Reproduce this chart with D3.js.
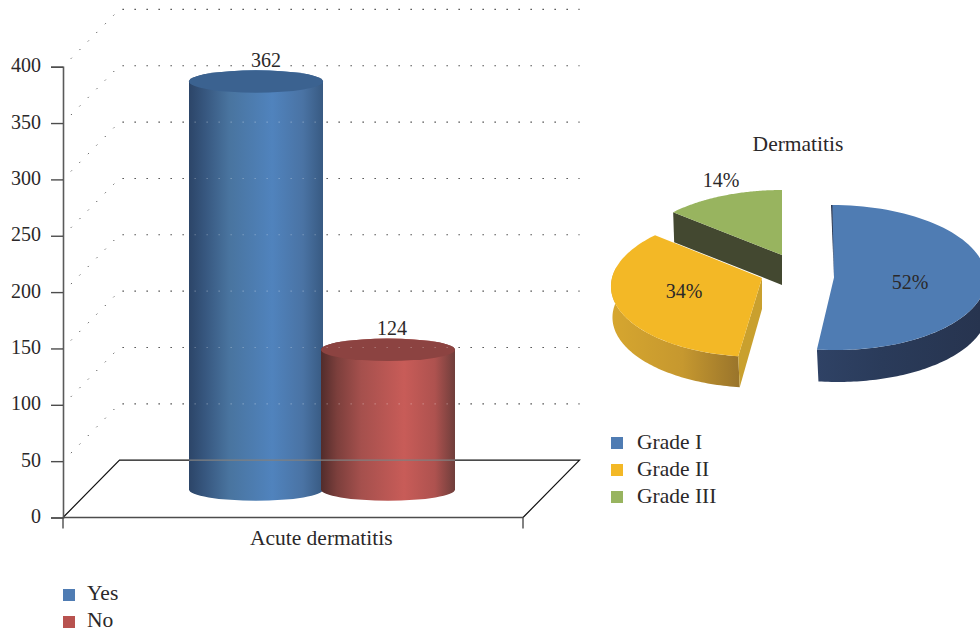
<!DOCTYPE html>
<html><head><meta charset="utf-8">
<script src="https://cdn.jsdelivr.net/npm/d3@7"></script>
<style>html,body{margin:0;padding:0;background:#fff}svg{display:block}text{font-family:"Liberation Serif",serif;fill:#2b2829}</style>
</head><body><svg id="c" width="980" height="635"></svg>
<script>
// ---- data ----
const barCategory = "Acute dermatitis";
const barSeries = ["Yes", "No"];
const barValues = [362, 124];
const yTicks = [0, 50, 100, 150, 200, 250, 300, 350, 400];
const pieTitle = "Dermatitis";
const pieLabels = ["Grade I", "Grade II", "Grade III"];
const pieValues = [52, 34, 14];

// ---- layout & style ----
const svg = d3.select("#c");
const defs = svg.append("defs");
const y = d3.scaleLinear([0, 400], [517.5, 66.7]);
const front = {l: 63, r: 523};
const depth = {x: 56.5, y: 57.3};
const cylOffset = 28, cylHalf = 67, cylRy = 11.2;
const numSize = "20px", wordSize = "21.5px";
const xs = d3.scaleBand(barSeries, [190, 454]);
const cx = s => xs(s) + xs.bandwidth() / 2;
const barColors = {
  Yes: {top: "#3b6290", stops: [[0,"#2c4568"],[.12,"#37577f"],[.3,"#49749f"],[.62,"#5083bd"],[.85,"#4a73a4"],[1,"#385a82"]]},
  No: {top: "#8c4341", stops: [[0,"#522c2b"],[.12,"#7c3f3c"],[.3,"#a5504d"],[.62,"#c85c58"],[.85,"#ae524f"],[1,"#6f3e3b"]]}
};
const pieColors = ["#4f7cb3", "#f3b826", "#98b45f"];
const pieGeom = [
  {x: 834, y: 277.5, rx: 152, ry: 72.5, k: 0, d: 32, s: 2},
  {x: 762, y: 278, rx: 150, ry: 71.3, k: .097, d: 31, s: -3},
  {x: 782, y: 255, rx: 150, ry: 71.3, k: .097, d: 30, s: 0}
];

barSeries.forEach((s, i) => {
  const g = defs.append("linearGradient").attr("id", "cyl" + i);
  barColors[s].stops.forEach(d => g.append("stop").attr("offset", d[0]).attr("stop-color", d[1]));
});
const wallGrad = (id, stops, x1, x2) => {
  const g = defs.append("linearGradient").attr("id", id).attr("gradientUnits", "userSpaceOnUse")
    .attr("x1", x1).attr("x2", x2).attr("y1", 0).attr("y2", 0);
  stops.forEach(d => g.append("stop").attr("offset", d[0]).attr("stop-color", d[1]));
};
wallGrad("w0", [[0,"#2f4265"],[.4,"#2a3b5a"],[1,"#27344f"]], 817, 980);
wallGrad("w1", [[0,"#d6a62f"],[.55,"#c6982f"],[1,"#99742b"]], 612, 740);

// ---- back wall grid ----
const grid = svg.append("g");
const gridTicks = yTicks.filter(v => v > 0);
const gridLine = sel => sel.attr("x1", front.l + depth.x + 3).attr("x2", front.r + depth.x)
  .attr("y1", d => y(d) - depth.y).attr("y2", d => y(d) - depth.y)
  .attr("stroke-width", 1.1).attr("stroke-dasharray", "1.3 10.7");
grid.selectAll("line.g").data(gridTicks).join("line").attr("class", "g").call(gridLine).attr("stroke", "#333");
grid.selectAll("line.d").data(gridTicks).join("line").attr("class", "d")
  .attr("x1", front.l).attr("y1", d => y(d)).attr("x2", front.l + depth.x - 2).attr("y2", d => y(d) - depth.y + 2)
  .attr("stroke", "#444").attr("stroke-width", 1)
  .attr("stroke-dasharray", "1.2 10.9").attr("stroke-dashoffset", -11.3);

// floor
const floor = d3.line()([[front.l, y(0)], [front.l + depth.x, y(0) - depth.y], [front.r + depth.x, y(0) - depth.y], [front.r, y(0)]]);
svg.append("path").attr("d", floor).attr("fill", "none").attr("stroke", "#111").attr("stroke-width", 1.2);

// ---- cylinders ----
const cylPath = (s, v) => {
  const c = cx(s), t = y(v) - cylOffset, b = y(0) - cylOffset;
  return `M${c - cylHalf},${t}L${c - cylHalf},${b}A${cylHalf},${cylRy} 0 0 0 ${c + cylHalf},${b}L${c + cylHalf},${t}A${cylHalf},${cylRy} 0 0 0 ${c - cylHalf},${t}Z`;
};
const clip = defs.append("clipPath").attr("id", "cylclip");
barSeries.forEach((s, i) => {
  svg.append("path").attr("d", cylPath(s, barValues[i])).attr("fill", `url(#cyl${i})`);
  svg.append("ellipse").attr("cx", cx(s)).attr("cy", y(barValues[i]) - cylOffset)
    .attr("rx", cylHalf).attr("ry", cylRy).attr("fill", barColors[s].top);
  clip.append("path").attr("d", cylPath(s, barValues[i]));
});
// grid and floor show faintly through the cylinders
const through = svg.append("g").attr("clip-path", "url(#cylclip)");
through.selectAll("line.g").data(gridTicks).join("line").attr("class", "g").call(gridLine)
  .attr("stroke", "#fff").attr("stroke-opacity", .3);
through.append("path").attr("d", floor).attr("fill", "none").attr("stroke", "#808080").attr("stroke-width", 1.2);

// ---- axes ----
const axis = svg.append("g").attr("transform", `translate(${front.l},0)`)
  .call(d3.axisLeft(y).tickValues(yTicks).tickSize(12).tickPadding(10).tickFormat(d3.format("d")));
axis.selectAll("line").attr("stroke", "#4d4d4d").attr("stroke-width", 1.4);
axis.select(".domain").attr("stroke", "#5a5a5a").attr("stroke-width", 1.6);
axis.selectAll("text").attr("dy", "0.25em").style("font-size", numSize).style("font-family", '"Liberation Serif",serif').attr("fill", "#2b2829");
svg.append("line").attr("x1", front.l).attr("x2", front.r).attr("y1", y(0)).attr("y2", y(0)).attr("stroke", "#4d4d4d").attr("stroke-width", 1.6);
[front.l, front.r].forEach(x => svg.append("line").attr("x1", x).attr("x2", x).attr("y1", y(0)).attr("y2", y(0) + 11).attr("stroke", "#4d4d4d").attr("stroke-width", 1.4));
svg.append("text").attr("x", (front.l + front.r + depth.x) / 2).attr("y", 545).attr("text-anchor", "middle").style("font-size", wordSize).text(barCategory);

// bar value labels
const labelDx = [10, 4];
barSeries.forEach((s, i) => svg.append("text")
  .attr("x", cx(s) + labelDx[i]).attr("y", y(barValues[i]) - cylOffset - 15)
  .attr("text-anchor", "middle").style("font-size", numSize)
  .attr("stroke", "#fff").attr("stroke-width", 4).attr("paint-order", "stroke").text(barValues[i]));

// bar legend
barSeries.forEach((s, i) => {
  const py = 589 + i * 27;
  svg.append("rect").attr("x", 63).attr("y", py).attr("width", 12).attr("height", 12).attr("fill", i ? "#b8524f" : "#4f7cb3");
  svg.append("text").attr("x", 87).attr("y", py + 11).style("font-size", wordSize).text(s);
});

// ---- pie ----
const arcs = d3.pie().sort(null)(pieValues);
const pt = (g, t, off = 0) => {
  const u = Math.sin(t), v = Math.cos(t), w = 1 + g.k * v;
  return [g.x + g.rx * u / w - g.s * v + (off ? 1.5 : 0), g.y - g.ry * v / w + off];
};
const line = d3.line();
const arcPts = (g, a, b, off = 0) => d3.range(0, 81).map(i => pt(g, a + (b - a) * i / 80, off));
const clipT = (a, b) => [Math.max(a, Math.PI / 2), Math.min(b, 1.55 * Math.PI)];

// green slice (back)
{
  const g = pieGeom[2], a = arcs[2], p = pt(g, a.startAngle), tip = [g.x, g.y];
  svg.append("path").attr("d", line([p, tip, [tip[0], tip[1] + g.d], [p[0] + 1, p[1] + g.d]]) + "Z").attr("fill", "#434830");
  svg.append("path").attr("d", line([tip, ...arcPts(g, a.startAngle, a.endAngle)]) + "Z").attr("fill", pieColors[2]);
}
// yellow slice
{
  const g = pieGeom[1], a = arcs[1], tip = [g.x, g.y], p = pt(g, a.startAngle);
  const [t0, t1] = clipT(a.startAngle, a.endAngle);
  svg.append("path").attr("d", line([...arcPts(g, t0, t1), ...arcPts(g, t0, t1, g.d).reverse()]) + "Z").attr("fill", "url(#w1)");
  svg.append("path").attr("d", line([tip, p, [p[0] + 1.5, p[1] + g.d], [tip[0], tip[1] + g.d]]) + "Z").attr("fill", "#c9a02e");
  svg.append("path").attr("d", line([tip, ...arcPts(g, a.startAngle, a.endAngle)]) + "Z").attr("fill", pieColors[1]);
}
// blue slice
{
  const g = pieGeom[0], a = arcs[0], tip = [g.x, g.y];
  const [t0, t1] = clipT(a.startAngle, a.endAngle);
  svg.append("path").attr("d", line([...arcPts(g, t0, t1), ...arcPts(g, t0, t1, g.d).reverse()]) + "Z").attr("fill", "url(#w0)");
  svg.append("path").attr("d", line([tip, ...arcPts(g, a.startAngle, a.endAngle)]) + "Z").attr("fill", pieColors[0]);
  const s = pt(g, a.startAngle);
  svg.append("path").attr("d", line([[s[0] - 1, s[1]], tip, [s[0] + .4, s[1]]]) + "Z").attr("fill", "#27344f");
}
// pie labels
svg.append("text").attr("x", 798).attr("y", 151).attr("text-anchor", "middle").style("font-size", wordSize).text(pieTitle);
const pieLabelPos = [[910, 289], [684, 298], [721, 187]];
pieValues.forEach((v, i) => svg.append("text").attr("x", pieLabelPos[i][0]).attr("y", pieLabelPos[i][1])
  .attr("text-anchor", "middle").style("font-size", numSize).text(v + "%"));
pieLabels.forEach((s, i) => {
  const py = 437 + i * 27;
  svg.append("rect").attr("x", 611).attr("y", py).attr("width", 12).attr("height", 12).attr("fill", pieColors[i]);
  svg.append("text").attr("x", 637).attr("y", py + 12).style("font-size", wordSize).text(s);
});
</script></body></html>
